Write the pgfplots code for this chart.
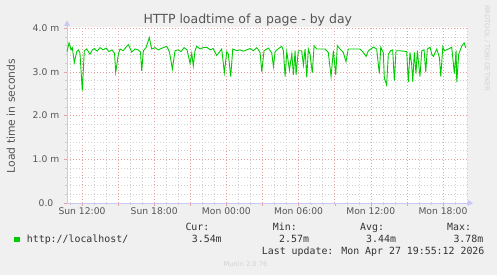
\documentclass[border=0pt]{standalone}
\usepackage{pgfplots}
\pgfplotsset{compat=1.18}
\usepackage{fontspec}
\setmainfont{DejaVu Sans}
\newfontfamily\monofont{DejaVu Sans Mono}
\definecolor{bg}{HTML}{F0F0F0}
\definecolor{txt}{HTML}{555555}
\definecolor{legtxt}{HTML}{333333}
\definecolor{majgrid}{HTML}{E8A0A0}
\definecolor{mingrid}{HTML}{CFCFCF}
\definecolor{axcol}{HTML}{C8C8F5}
\definecolor{series}{HTML}{00CC00}
\definecolor{faint}{HTML}{D2D2D2}
\begin{document}
\begin{tikzpicture}[x=1pt,y=1pt]
\fill[bg] (-67,-72) rectangle (430,203);
\path[use as bounding box] (-67,-72) rectangle (430,203);
\begin{axis}[
  at={(0,0)}, anchor=south west,
  scale only axis, width=400pt, height=175.9pt,
  xmin=10.75, xmax=44, ymin=0, ymax=4.02,
  axis x line*=bottom, axis y line*=left,
  axis line style={axcol},
  axis background/.style={fill=white},
  xtick={12,15,18,21,24,27,30,33,36,39,42},
  xticklabels={Sun 12:00,,Sun 18:00,,Mon 00:00,,Mon 06:00,,Mon 12:00,,Mon 18:00},
  minor xtick={11,13,14,16,17,19,20,22,23,25,26,28,29,31,32,34,35,37,38,40,41,43,44},
  ytick={0,1,2,3,4},
  yticklabels={0.0,1.0 m,2.0 m,3.0 m,4.0 m},
  minor ytick={0.2,0.4,0.6,0.8,1.2,1.4,1.6,1.8,2.2,2.4,2.6,2.8,3.2,3.4,3.6,3.8},
  grid=both,
  major grid style={majgrid, dash pattern=on 1pt off 2pt},
  minor grid style={mingrid, dash pattern=on 1pt off 2pt},
  tick align=outside, major tick length=3pt, minor tick length=2pt,
  major tick style={majgrid}, minor tick style={mingrid},
  ticklabel style={font=\fontsize{9.2}{10}\selectfont, text=txt},
  yticklabel style={anchor=center, xshift=-18pt},
  xticklabel style={anchor=base, yshift=-8.5pt},
  clip=false,
]
\addplot[series, line width=0.9pt, mark=none] coordinates {
(10.75,3.46)(10.92,3.66)(11.09,3.50)(11.19,3.55)(11.36,3.21)(11.56,3.46)(11.71,3.50)(11.83,3.42)
(12.02,2.57)(12.19,3.48)(12.39,3.52)(12.66,3.40)(12.86,3.50)(13.02,3.53)(13.25,3.47)(13.50,3.55)
(13.75,3.50)(14.00,3.54)(14.24,3.46)(14.49,3.50)(14.70,3.42)(14.80,2.99)(15.02,3.40)(15.16,3.52)
(15.41,3.48)(15.66,3.56)(15.85,3.62)(16.13,3.45)(16.41,3.52)(16.66,3.50)(16.86,3.45)(16.96,3.02)
(17.10,3.48)(17.32,3.55)(17.59,3.78)(17.79,3.52)(18.07,3.55)(18.34,3.50)(18.65,3.54)(19.04,3.58)
(19.27,3.45)(19.51,3.06)(19.73,3.48)(19.98,3.50)(20.23,3.46)(20.48,3.55)(20.73,3.50)(20.98,3.19)
(21.12,3.42)(21.25,3.13)(21.39,3.48)(21.53,3.58)(21.81,3.52)(22.06,3.55)(22.37,3.56)(22.64,3.50)
(22.89,3.53)(23.20,3.37)(23.61,3.52)(23.83,2.98)(24.03,3.46)(24.16,3.40)(24.36,2.89)(24.53,3.52)
(24.86,3.48)(25.13,3.50)(25.41,3.47)(25.69,3.50)(25.97,3.53)(26.24,3.48)(26.52,3.55)(26.66,3.50)
(26.80,3.44)(26.94,3.00)(27.13,3.48)(27.49,3.54)(27.77,3.43)(27.91,3.12)(28.05,3.46)(28.19,3.50)
(28.60,3.58)(28.74,3.48)(28.88,2.89)(29.02,3.46)(29.24,3.04)(29.44,3.41)(29.57,2.93)(29.71,3.48)
(29.79,2.93)(29.98,3.48)(30.26,3.48)(30.40,3.15)(30.54,3.52)(30.68,2.87)(30.81,3.52)(30.95,3.40)
(31.14,2.98)(31.29,3.59)(31.51,3.52)(31.78,3.52)(32.20,3.52)(32.47,3.44)(32.70,2.89)(32.89,3.48)
(33.09,2.93)(33.22,3.60)(33.44,3.52)(33.72,3.44)(33.94,3.23)(34.13,3.52)(34.55,3.52)(35.11,3.52)
(35.38,3.44)(35.61,3.35)(35.80,3.48)(36.21,3.56)(36.49,3.52)(36.71,2.96)(36.83,3.56)(37.04,3.44)
(37.13,2.85)(37.32,2.70)(37.46,3.40)(37.65,3.48)(37.82,3.50)(37.96,2.80)(38.10,3.48)(38.43,3.48)
(38.99,3.46)(39.12,2.77)(39.26,3.44)(39.40,3.17)(39.49,2.77)(39.62,3.44)(39.76,2.96)(39.87,3.48)
(40.09,2.89)(40.24,3.48)(40.43,3.50)(40.57,3.00)(40.70,3.52)(40.93,3.56)(41.07,3.40)(41.21,3.35)
(41.49,3.52)(41.71,3.32)(41.82,2.89)(41.99,3.57)(42.12,3.48)(42.46,3.52)(42.73,3.56)(42.95,2.96)
(43.09,3.48)(43.15,2.76)(43.31,3.40)(43.42,3.48)(43.57,3.59)(43.76,3.66)(43.90,3.54)
};
\end{axis}
% axis arrows
\draw[axcol] (0,175.9) -- (0,178) (400,0) -- (402,0);
\fill[axcol] (-3,177) -- (3,177) -- (0,182.5) -- cycle;
\fill[axcol] (401,-3) -- (401,3) -- (406,0) -- cycle;
% title and labels
\node[font=\fontsize{12.5}{14}\selectfont, text=txt, anchor=base] at (180.8,179.5) {HTTP loadtime of a page - by day};
\node[font=\fontsize{10.8}{12}\selectfont, text=txt, rotate=90, anchor=center] at (-56.2,87) {Load time in seconds};
% legend
\fill[series] (-53,-39.3) rectangle (-47,-33.7);
\begin{scope}[every node/.style={font=\monofont\fontsize{9.9}{11}\selectfont, text=legtxt, anchor=base west, inner sep=0pt}]
\node at (-40.3,-40) {http://localhost/};
\node at (118.3,-28) {Cur:};
\node at (124.7,-40) {3.54m};
\node at (205.7,-28) {Min:};
\node at (212,-40) {2.57m};
\node at (293,-28) {Avg:};
\node at (299,-40) {3.44m};
\node at (380,-28) {Max:};
\node at (386.3,-40) {3.78m};
\node at (194.7,-51.5) {Last update: Mon Apr 27 19:55:12 2026};
\end{scope}
\node[font=\fontsize{6.7}{8}\selectfont, text=faint, anchor=west, inner sep=0pt] at (156.3,-61.3) {Munin 2.0.76};
\node[font=\fontsize{6.7}{8}\selectfont, text=faint, anchor=west, inner sep=0pt, rotate=-90] at (420,198) {RRDTOOL / TOBI OETIKER};
\end{tikzpicture}
\end{document}
